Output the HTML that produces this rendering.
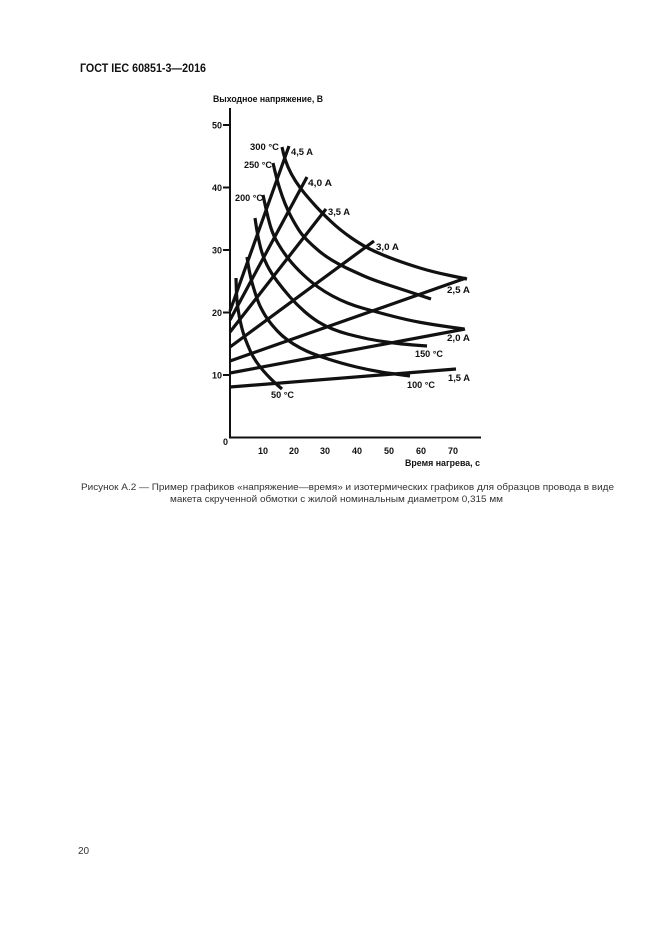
<!DOCTYPE html>
<html>
<head>
<meta charset="utf-8">
<style>
  html,body{margin:0;padding:0;background:#fff;}
  svg{display:block;}
  .b{font-family:"Liberation Sans","Noto Sans CJK SC",sans-serif;font-weight:bold;fill:#111;}
  .r{font-family:"Liberation Sans","Noto Sans CJK SC",sans-serif;fill:#333;}
</style>
</head>
<body>
<svg width="661" height="935" viewBox="0 0 661 935" xmlns="http://www.w3.org/2000/svg">
  <rect width="661" height="935" fill="#fff"/>

  <!-- Header -->
  <text class="b" x="80" y="72" font-size="11.5" textLength="126" lengthAdjust="spacingAndGlyphs">ГОСТ IEC 60851-3—2016</text>

  <!-- Axis title -->
  <text class="b" x="213" y="102" font-size="8.8" textLength="110" lengthAdjust="spacingAndGlyphs">Выходное напряжение, В</text>

  <!-- Axes -->
  <g stroke="#111" stroke-width="2" fill="none">
    <line x1="230" y1="108" x2="230" y2="438.5"/>
    <line x1="229" y1="437.5" x2="481" y2="437.5"/>
    <line x1="223" y1="125" x2="230" y2="125"/>
    <line x1="223" y1="187.5" x2="230" y2="187.5"/>
    <line x1="223" y1="250" x2="230" y2="250"/>
    <line x1="223" y1="312.5" x2="230" y2="312.5"/>
    <line x1="223" y1="375" x2="230" y2="375"/>
  </g>

  <!-- Y tick labels -->
  <g class="b" font-size="9" text-anchor="end">
    <text x="222" y="128.5">50</text>
    <text x="222" y="191">40</text>
    <text x="222" y="253.5">30</text>
    <text x="222" y="316">20</text>
    <text x="222" y="378.5">10</text>
    <text x="228" y="445">0</text>
  </g>

  <!-- X tick labels -->
  <g class="b" font-size="9" text-anchor="middle">
    <text x="263" y="454">10</text>
    <text x="294" y="454">20</text>
    <text x="325" y="454">30</text>
    <text x="357" y="454">40</text>
    <text x="389" y="454">50</text>
    <text x="421" y="454">60</text>
    <text x="453" y="454">70</text>
  </g>
  <text class="b" x="405" y="466" font-size="9" textLength="75" lengthAdjust="spacingAndGlyphs">Время нагрева, с</text>

  <!-- Current lines -->
  <g stroke="#111" stroke-width="3.2" fill="none" stroke-linecap="butt">
    <line x1="230" y1="387" x2="456" y2="369"/>
    <line x1="230" y1="373" x2="465" y2="329"/>
    <line x1="230" y1="361" x2="466" y2="278"/>
    <line x1="230" y1="347" x2="374" y2="241"/>
    <line x1="230" y1="332" x2="326" y2="209"/>
    <line x1="230" y1="320" x2="307" y2="177"/>
    <line x1="230" y1="311" x2="289" y2="146"/>
  </g>

  <!-- Isotherms -->
  <g stroke="#111" stroke-width="3.2" fill="none" stroke-linejoin="round" stroke-linecap="butt">
    <path d="M282,147 L283.5,153.5 Q285,160 288,167 Q291,174 295.5,181 Q300,188 305.5,194.5 Q311,201 316.5,207 Q322,213 331,221.5 Q340,230 351.5,238 Q363,246 374,251 Q385,256 396,260 Q407,264 420,268 Q433,272 450,275.5 L467,279"/>
    <path d="M273,163 L275,171.5 Q277,180 279.5,188 Q282,196 285,203.5 Q288,211 291.5,217.5 Q295,224 298.5,229.5 Q302,235 307.5,240.5 Q313,246 319,251 Q325,256 332.5,260.5 Q340,265 347.5,268.5 Q355,272 364,276 Q373,280 390,285.5 Q407,291 419,295 L431,299"/>
    <path d="M263,195 L265.5,206.5 Q268,218 270.5,226.5 Q273,235 278,243.5 Q283,252 289,259.5 Q295,267 303,274.5 Q311,282 318,287 Q325,292 332.5,296 Q340,300 347.5,303 Q355,306 364,308.5 Q373,311 390,315.5 Q407,320 421,322.5 Q435,325 449.5,327 L464,329"/>
    <path d="M255,218 L256.5,228 Q258,238 260.5,247.5 Q263,257 267,265 Q271,273 277,281 Q283,289 290,297 Q297,305 304.5,311.5 Q312,318 318.5,322 Q325,326 332.5,329 Q340,332 347.5,334 Q355,336 364,338 Q373,340 386.5,342 Q400,344 413.5,345 L427,346"/>
    <path d="M247,257 L248,263.5 Q249,270 250.5,276.5 Q252,283 255,292.5 Q258,302 260.5,307 Q263,312 265.5,316 Q268,320 272.5,325.5 Q277,331 282,335.5 Q287,340 293.5,344 Q300,348 306.5,351 Q313,354 326.5,358.5 Q340,363 356.5,367 Q373,371 391.5,373.5 L410,376"/>
    <path d="M236,278 L236.35,289 Q236.7,300 237.85,308 Q239,316 241,324.5 Q243,333 245.5,339.5 Q248,346 250.5,351.5 Q253,357 256.5,362 Q260,367 263.5,371 Q267,375 271,379 Q275,383 278.5,386 L282,389"/>
  </g>

  <!-- Curve labels -->
  <g class="b" font-size="9">
    <text x="250" y="150" textLength="29" lengthAdjust="spacingAndGlyphs">300 °C</text>
    <text x="291" y="155" textLength="22" lengthAdjust="spacingAndGlyphs">4,5 A</text>
    <text x="244" y="168" textLength="28" lengthAdjust="spacingAndGlyphs">250 °C</text>
    <text x="308" y="186" textLength="24" lengthAdjust="spacingAndGlyphs">4,0 A</text>
    <text x="235" y="201" textLength="28" lengthAdjust="spacingAndGlyphs">200 °C</text>
    <text x="328" y="215" textLength="22" lengthAdjust="spacingAndGlyphs">3,5 A</text>
    <text x="376" y="250" textLength="23" lengthAdjust="spacingAndGlyphs">3,0 A</text>
    <text x="447" y="293" textLength="23" lengthAdjust="spacingAndGlyphs">2,5 A</text>
    <text x="447" y="341" textLength="23" lengthAdjust="spacingAndGlyphs">2,0 A</text>
    <text x="415" y="357" textLength="28" lengthAdjust="spacingAndGlyphs">150 °C</text>
    <text x="448" y="381" textLength="22" lengthAdjust="spacingAndGlyphs">1,5 A</text>
    <text x="407" y="388" textLength="28" lengthAdjust="spacingAndGlyphs">100 °C</text>
    <text x="271" y="398" textLength="23" lengthAdjust="spacingAndGlyphs">50 °C</text>
  </g>

  <!-- Caption -->
  <text class="r" x="81" y="490" font-size="9.6" textLength="533" lengthAdjust="spacingAndGlyphs">Рисунок А.2 — Пример графиков «напряжение—время» и изотермических графиков для образцов провода в виде</text>
  <text class="r" x="170" y="502" font-size="9.6" textLength="333" lengthAdjust="spacingAndGlyphs">макета скрученной обмотки с жилой номинальным диаметром 0,315 мм</text>

  <!-- Page number -->
  <text class="r" x="78" y="854" font-size="10">20</text>
</svg>
</body>
</html>
